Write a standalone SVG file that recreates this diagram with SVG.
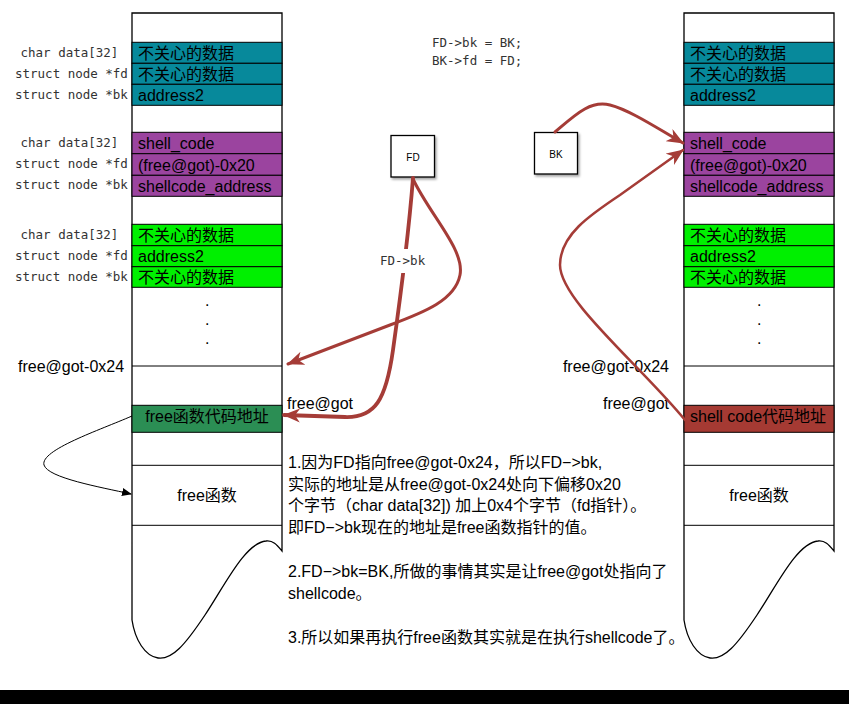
<svg xmlns="http://www.w3.org/2000/svg" width="849" height="704" viewBox="0 0 849 704">
<defs>
<style>
.col{fill:#fff;stroke:#000;stroke-width:1.3}
.cell{stroke:#000;stroke-width:1}
.teal{fill:#07899b}
.purple{fill:#9b449f}
.green{fill:#00f000}
.dgreen{fill:#2b8e54}
.red{fill:#a53a33}
.white{fill:#fff}
.t{font-family:"Liberation Sans","Noto Sans CJK SC",sans-serif;font-size:16px;fill:#000}
.m{font-family:"DejaVu Sans Mono",monospace;font-size:12.5px;fill:#333}
.s{font-family:"Liberation Sans",sans-serif;font-size:10px;fill:#000}
.arr{fill:none;stroke:#a53c37;stroke-linecap:round}
.thin{fill:none;stroke:#000;stroke-width:1}
.box{fill:#fff;stroke:#000;stroke-width:1.3}
</style>
<marker id="ah" markerUnits="userSpaceOnUse" markerWidth="18" markerHeight="14" refX="16" refY="7" orient="auto">
<path d="M0,0 L17,7 L0,14 L5,7 Z" fill="#a53c37"/>
</marker>
<marker id="bh" markerUnits="userSpaceOnUse" markerWidth="10" markerHeight="8" refX="9" refY="4" orient="auto">
<path d="M0,0 L10,4 L0,8 Z" fill="#000"/>
</marker>
<filter id="sh" x="-20%" y="-20%" width="150%" height="150%">
<feDropShadow dx="1.5" dy="2" stdDeviation="1.2" flood-color="#000" flood-opacity="0.35"/>
</filter>
<path id="colshape" d="M132,13 H282 V551 C277,545 273,540 266,541 C245,543 225,585 205,615 C185,645 172,660 158,658 C145,656 135,640 132,620 Z"/>
</defs>

<g id="left-column">
<use href="#colshape" class="col"/>
<rect class="cell teal" x="132" y="42.3" width="150" height="21"/>
<rect class="cell teal" x="132" y="63.3" width="150" height="21"/>
<rect class="cell teal" x="132" y="84.3" width="150" height="21"/>
<rect class="cell purple" x="132" y="132.3" width="150" height="21.4"/>
<rect class="cell purple" x="132" y="153.7" width="150" height="21.6"/>
<rect class="cell purple" x="132" y="175.3" width="150" height="21"/>
<rect class="cell green" x="132" y="224.3" width="150" height="21.4"/>
<rect class="cell green" x="132" y="245.7" width="150" height="21"/>
<rect class="cell green" x="132" y="266.7" width="150" height="20.6"/>
<line class="cell" x1="132" y1="366" x2="282" y2="366"/>
<rect class="cell dgreen" x="132" y="405.3" width="150" height="27"/>
<line class="cell" x1="132" y1="465.3" x2="282" y2="465.3"/>
<line class="cell" x1="132" y1="525.3" x2="282" y2="525.3"/>
<text class="t" x="138" y="58.5">不关心的数据</text>
<text class="t" x="138" y="79.5">不关心的数据</text>
<text class="t" x="138" y="100.5">address2</text>
<text class="t" x="138" y="149">shell_code</text>
<text class="t" x="138" y="170.5">(free@got)-0x20</text>
<text class="t" x="138" y="191.5">shellcode_address</text>
<text class="t" x="138" y="240.5">不关心的数据</text>
<text class="t" x="138" y="262">address2</text>
<text class="t" x="138" y="282.5">不关心的数据</text>
<text class="t" x="205" y="306">.</text>
<text class="t" x="205" y="325">.</text>
<text class="t" x="205" y="344">.</text>
<text class="t" x="207" y="421.5" text-anchor="middle">free函数代码地址</text>
<text class="t" x="207" y="501" text-anchor="middle">free函数</text>
</g>

<g id="left-labels">
<text class="m" x="20.5" y="57">char data[32]</text>
<text class="m" x="15" y="78">struct node *fd</text>
<text class="m" x="15" y="99">struct node *bk</text>
<text class="m" x="20.5" y="147">char data[32]</text>
<text class="m" x="15" y="168">struct node *fd</text>
<text class="m" x="15" y="189">struct node *bk</text>
<text class="m" x="20.5" y="239">char data[32]</text>
<text class="m" x="15" y="260">struct node *fd</text>
<text class="m" x="15" y="281">struct node *bk</text>
<text class="t" x="18" y="372">free@got-0x24</text>
<text class="t" x="287" y="409">free@got</text>
</g>

<g id="right-column">
<use href="#colshape" class="col" transform="translate(552,0)"/>
<rect class="cell teal" x="684" y="42.3" width="150" height="21"/>
<rect class="cell teal" x="684" y="63.3" width="150" height="21"/>
<rect class="cell teal" x="684" y="84.3" width="150" height="21"/>
<rect class="cell purple" x="684" y="132.3" width="150" height="21.4"/>
<rect class="cell purple" x="684" y="153.7" width="150" height="21.6"/>
<rect class="cell purple" x="684" y="175.3" width="150" height="21"/>
<rect class="cell green" x="684" y="224.3" width="150" height="21.4"/>
<rect class="cell green" x="684" y="245.7" width="150" height="21"/>
<rect class="cell green" x="684" y="266.7" width="150" height="20.6"/>
<line class="cell" x1="684" y1="366" x2="834" y2="366"/>
<rect class="cell red" x="684" y="405.3" width="150" height="27"/>
<line class="cell" x1="684" y1="465.3" x2="834" y2="465.3"/>
<line class="cell" x1="684" y1="525.3" x2="834" y2="525.3"/>
<text class="t" x="690" y="58.5">不关心的数据</text>
<text class="t" x="690" y="79.5">不关心的数据</text>
<text class="t" x="690" y="100.5">address2</text>
<text class="t" x="690" y="149">shell_code</text>
<text class="t" x="690" y="170.5">(free@got)-0x20</text>
<text class="t" x="690" y="191.5">shellcode_address</text>
<text class="t" x="690" y="240.5">不关心的数据</text>
<text class="t" x="690" y="262">address2</text>
<text class="t" x="690" y="282.5">不关心的数据</text>
<text class="t" x="757" y="306">.</text>
<text class="t" x="757" y="325">.</text>
<text class="t" x="757" y="344">.</text>
<text class="t" x="690" y="421.5">shell code代码地址</text>
<text class="t" x="759" y="501" text-anchor="middle">free函数</text>
</g>

<g id="right-labels">
<text class="t" x="669" y="372" text-anchor="end">free@got-0x24</text>
<text class="t" x="669" y="409" text-anchor="end">free@got</text>
</g>

<g id="code">
<text class="m" x="432" y="47">FD-&gt;bk = BK;</text>
<text class="m" x="432" y="65">BK-&gt;fd = FD;</text>
</g>

<g id="FD">
<rect class="box" x="391" y="135.5" width="43.5" height="41.5" filter="url(#sh)"/>
<text class="s" x="413" y="160.5" text-anchor="middle">FD</text>
</g>
<g id="BK">
<rect class="box" x="534.5" y="132.5" width="43" height="41.5" filter="url(#sh)"/>
<text class="s" x="556" y="157.5" text-anchor="middle">BK</text>
</g>

<g id="connectors">
<path class="arr" stroke-width="3" d="M413,179 C430,215 465,250 460,275 C455,300 425,312 390,325 L288,364" marker-end="url(#ah)"/>
<path class="arr" stroke-width="3.8" d="M413,178 C409,230 400,300 393,350 C386,400 375,418 345,417 L284,415" marker-end="url(#ah)"/>
<path class="arr" stroke-width="3" d="M555,132 C575,115 590,100 610,105 C630,110 660,130 683,143" marker-end="url(#ah)"/>
<path class="arr" stroke-width="2.5" d="M685,420 C640,365 560,300 560,265 C560,235 590,215 620,195 L683,150" marker-end="url(#ah)"/>
<path class="thin" d="M132,416 C100,430 40,450 44,465 C48,478 100,487 131,494" marker-end="url(#bh)"/>
<rect x="377" y="249" width="52" height="24" fill="#fff"/>
<text class="m" x="380" y="265">FD-&gt;bk</text>
</g>

<g id="notes">
<text class="t" x="288" y="467.5">1.因为FD指向free@got-0x24，所以FD−&gt;bk,</text>
<text class="t" x="288" y="489.5">实际的地址是从free@got-0x24处向下偏移0x20</text>
<text class="t" x="288" y="511">个字节（char data[32]) 加上0x4个字节（fd指针）。</text>
<text class="t" x="288" y="533">即FD−&gt;bk现在的地址是free函数指针的值。</text>
<text class="t" x="288" y="577">2.FD−&gt;bk=BK,所做的事情其实是让free@got处指向了</text>
<text class="t" x="288" y="599">shellcode。</text>
<text class="t" x="288" y="643">3.所以如果再执行free函数其实就是在执行shellcode了。</text>
</g>

<rect x="0" y="690" width="849" height="14" fill="#000"/>
</svg>
